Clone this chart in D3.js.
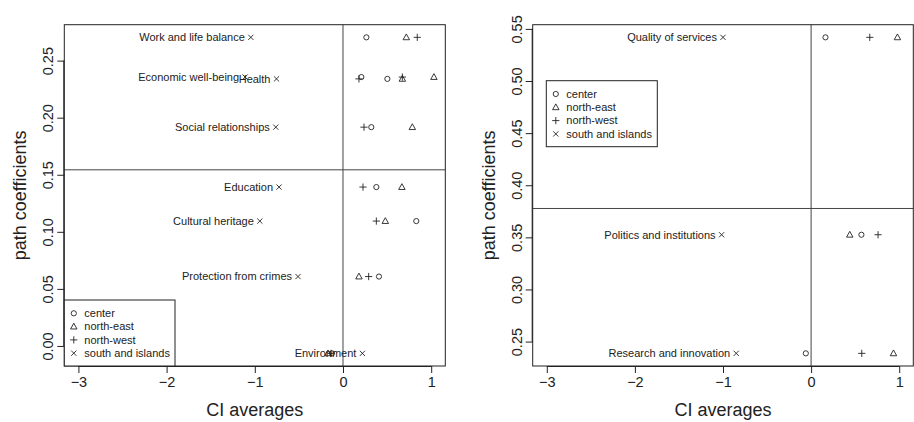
<!DOCTYPE html>
<html>
<head>
<meta charset="utf-8">
<script src="https://cdn.jsdelivr.net/npm/d3@7"></script>
<style>
  html, body { margin: 0; padding: 0; background: #fff; }
  svg { display: block; font-family: "Liberation Sans", Arial, sans-serif; }
</style>
</head>
<body>
<svg id="chart" width="914" height="422"></svg>
<script>
// Regions shown in the legend, one plotting symbol each
const regions = ["center", "north-east", "north-west", "south and islands"];

// Left panel: indicators, their path coefficients and CI averages per region
const leftIndicators = ["Work and life balance", "Economic well-being", "Health",
  "Social relationships", "Education", "Cultural heritage", "Protection from crimes", "Environment"];
const leftPath = [0.2704, 0.2356, 0.2340, 0.1917, 0.1392, 0.1094, 0.0608, -0.0065];
const leftCenter = [0.265, 0.208, 0.503, 0.321, 0.378, 0.831, 0.408, -0.125];
const leftNorthEast = [0.718, 1.031, 0.673, 0.786, 0.668, 0.480, 0.181, -0.170];
const leftNorthWest = [0.842, 0.673, 0.181, 0.238, 0.227, 0.378, 0.291, -0.135];
const leftSouth = [-1.045, -1.110, -0.754, -0.762, -0.725, -0.943, -0.510, 0.220];

// Right panel
const rightIndicators = ["Quality of services", "Politics and institutions", "Research and innovation"];
const rightPath = [0.5419, 0.3525, 0.2387];
const rightCenter = [0.163, 0.571, -0.060];
const rightNorthEast = [0.980, 0.439, 0.935];
const rightNorthWest = [0.666, 0.760, 0.575];
const rightSouth = [-1.000, -1.016, -0.850];

// Axis settings
const xLimits = [-3, 1];
const xTicks = [-3, -2, -1, 0, 1];
const leftYTicks = [0.00, 0.05, 0.10, 0.15, 0.20, 0.25];
const rightYTicks = [0.25, 0.30, 0.35, 0.40, 0.45, 0.50, 0.55];

const ink = "#222";
const svg = d3.select("#chart");

// R-style 4% padding of a range
function pad(ext) {
  const d = (ext[1] - ext[0]) * 0.04;
  return [ext[0] - d, ext[1] + d];
}

// Plot symbols (R pch 1, 2, 3, 4)
function drawSymbol(g, kind, x, y) {
  const s = g.append("g").attr("transform", `translate(${x},${y})`)
    .attr("fill", "none").attr("stroke", ink).attr("stroke-width", 0.9);
  if (kind === 0) {
    s.append("circle").attr("r", 2.6);
  } else if (kind === 1) {
    const h = 3.4;
    s.append("path").attr("d", `M0,${-h}L${h * 0.95},${h * 0.7}L${-h * 0.95},${h * 0.7}Z`);
  } else if (kind === 2) {
    const h = 3.6;
    s.append("path").attr("d", `M${-h},0H${h}M0,${-h}V${h}`);
  } else {
    const h = 2.6;
    s.append("path").attr("d", `M${-h},${-h}L${h},${h}M${-h},${h}L${h},${-h}`);
  }
}

function panel(opt) {
  const g = svg.append("g");
  const x = d3.scaleLinear().domain(pad(xLimits)).range([opt.left, opt.right]);
  const y = d3.scaleLinear().domain(pad(d3.extent(opt.path))).range([opt.bottom, opt.top]);

  // Reference lines: zero CI average and mean path coefficient
  const meanPath = d3.mean(opt.path);
  g.append("line").attr("x1", x(0)).attr("x2", x(0)).attr("y1", opt.top).attr("y2", opt.bottom)
    .attr("stroke", "#444").attr("stroke-width", 1);
  g.append("line").attr("x1", opt.left).attr("x2", opt.right).attr("y1", y(meanPath)).attr("y2", y(meanPath))
    .attr("stroke", "#444").attr("stroke-width", 1);

  // Points for every region
  const series = [opt.center, opt.northEast, opt.northWest, opt.south];
  series.forEach((vals, k) => {
    vals.forEach((v, i) => drawSymbol(g, k, x(v), y(opt.path[i])));
  });

  // Indicator names to the left of the south and islands marker
  g.selectAll("text.lab").data(opt.indicators).join("text")
    .attr("class", "lab")
    .attr("x", (d, i) => x(opt.south[i]) - 6)
    .attr("y", (d, i) => y(opt.path[i]))
    .attr("dy", "0.35em")
    .attr("text-anchor", "end")
    .attr("font-size", 11)
    .attr("fill", ink)
    .text(d => d);

  // Frame
  g.append("rect").attr("x", opt.left).attr("y", opt.top)
    .attr("width", opt.right - opt.left).attr("height", opt.bottom - opt.top)
    .attr("fill", "none").attr("stroke", ink).attr("stroke-width", 1);

  // X axis
  const xa = g.append("g").attr("transform", `translate(0,${opt.bottom})`)
    .call(d3.axisBottom(x).tickValues(xTicks).tickSize(7).tickPadding(4)
      .tickFormat(d => d3.format("d")(d).replace("-", "\u2212")));
  xa.select(".domain").attr("d", `M${x(xTicks[0])},0.5H${x(xTicks[xTicks.length - 1])}`).attr("stroke", ink);
  xa.selectAll(".tick line").attr("stroke", ink);
  xa.selectAll(".tick text").attr("font-size", 14.5).attr("fill", ink)
    .attr("font-family", "Liberation Sans, Arial, sans-serif");

  // Y axis with rotated labels
  const ya = g.append("g").attr("transform", `translate(${opt.left},0)`)
    .call(d3.axisLeft(y).tickValues(opt.yTicks).tickSize(7).tickFormat(d3.format(".2f")));
  ya.select(".domain").attr("d", `M-0.5,${y(opt.yTicks[0])}V${y(opt.yTicks[opt.yTicks.length - 1])}`).attr("stroke", ink);
  ya.selectAll(".tick line").attr("stroke", ink);
  ya.selectAll(".tick text")
    .attr("x", null).attr("dy", null)
    .attr("transform", "translate(-11,0) rotate(-90)")
    .attr("text-anchor", "middle")
    .attr("font-size", 14.5).attr("fill", ink)
    .attr("font-family", "Liberation Sans, Arial, sans-serif");

  // Axis titles
  g.append("text").attr("x", (opt.left + opt.right) / 2).attr("y", 416)
    .attr("text-anchor", "middle").attr("font-size", 18).attr("fill", ink).text("CI averages");
  g.append("text").attr("transform", `translate(${opt.left - 38},${(opt.top + opt.bottom) / 2}) rotate(-90)`)
    .attr("text-anchor", "middle").attr("font-size", 18).attr("fill", ink).text("path coefficients");

  // Legend
  const L = opt.legend;
  g.append("rect").attr("x", L.x).attr("y", L.y).attr("width", L.w).attr("height", L.h)
    .attr("fill", "#fff").attr("stroke", ink).attr("stroke-width", 1);
  regions.forEach((r, k) => {
    const yy = L.y + 13.3 + k * 13.3;
    drawSymbol(g, k, L.x + 9.5, yy);
    g.append("text").attr("x", L.x + 20).attr("y", yy).attr("dy", "0.35em")
      .attr("font-size", 11).attr("fill", ink).text(r);
  });
}

panel({
  left: 64.3, right: 445.3, top: 24.7, bottom: 366,
  indicators: leftIndicators, path: leftPath,
  center: leftCenter, northEast: leftNorthEast, northWest: leftNorthWest, south: leftSouth,
  yTicks: leftYTicks,
  legend: { x: 64.3, y: 300, w: 110.7, h: 66 }
});

panel({
  left: 532.7, right: 913.3, top: 24.7, bottom: 366,
  indicators: rightIndicators, path: rightPath,
  center: rightCenter, northEast: rightNorthEast, northWest: rightNorthWest, south: rightSouth,
  yTicks: rightYTicks,
  legend: { x: 546.3, y: 80.7, w: 111, h: 66 }
});
</script>
</body>
</html>
